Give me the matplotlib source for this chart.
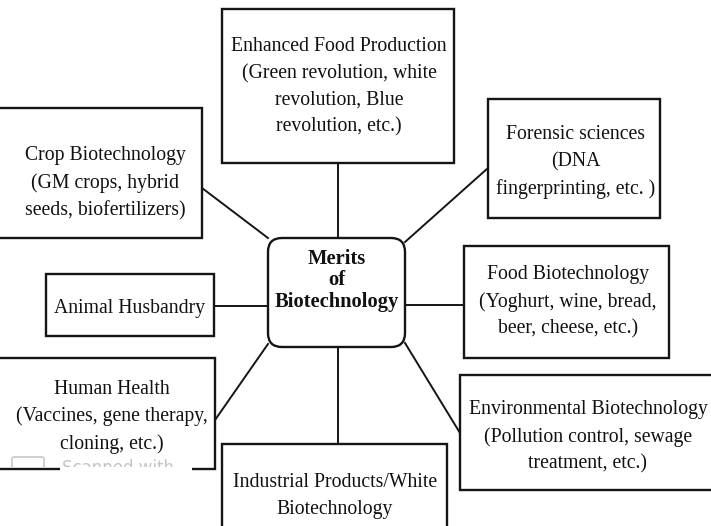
import matplotlib
matplotlib.use("Agg")
import matplotlib.pyplot as plt
from matplotlib.patches import Rectangle, FancyBboxPatch

# ---- content ----
center_label = ["Merits", "of", "Biotechnology"]
node_labels = [
    "Enhanced Food Production\n(Green revolution, white\nrevolution, Blue\nrevolution, etc.)",
    "Crop Biotechnology\n(GM crops, hybrid\nseeds, biofertilizers)",
    "Forensic sciences\n(DNA\nfingerprinting, etc. )",
    "Animal Husbandry",
    "Food Biotechnology\n(Yoghurt, wine, bread,\nbeer, cheese, etc.)",
    "Human Health\n(Vaccines, gene therapy,\ncloning, etc.)",
    "Environmental Biotechnology\n(Pollution control, sewage\ntreatment, etc.)",
    "Industrial Products/White\nBiotechnology",
]
watermark = "Scanned with"

# ---- layout (pixel coordinates: x0, y0, x1, y1) ----
boxes = [
    (222, 9, 454, 163),
    (-3, 108, 202, 238),
    (488, 99, 660, 218),
    (46, 274, 214, 336),
    (464, 246, 669, 358),
    (-3, 358, 215, 469),
    (460, 375, 713, 490),
    (222, 444, 447, 540),
]
text_xy = [
    (339, 87), (105, 183), (576, 162), (130, 308),
    (568, 302), (112, 417), (588, 437), (335, 496),
]
connectors = [
    ((338, 238), (338, 163)),
    ((268, 238), (202, 188)),
    ((405, 242), (488, 168)),
    ((268, 306), (214, 306)),
    ((405, 305), (464, 305)),
    ((268, 344), (215, 420)),
    ((405, 343), (460, 433)),
    ((338, 347), (338, 444)),
]
center_box = (268, 238, 405, 347)

W, H = 711, 526
fig = plt.figure(figsize=(W / 100, H / 100), dpi=100)
ax = fig.add_axes([0, 0, 1, 1])
ax.set_xlim(0, W)
ax.set_ylim(H, 0)
ax.axis("off")

font = "Liberation Serif"
fs = 14.2
ink = "#151515"

for (p0, p1) in connectors:
    ax.plot([p0[0], p1[0]], [p0[1], p1[1]], color=ink, lw=1.4, zorder=1)

for (x0, y0, x1, y1), lab, (tx, ty) in zip(boxes, node_labels, text_xy):
    ax.add_patch(Rectangle((x0, y0), x1 - x0, y1 - y0, fill=True, facecolor="white",
                           edgecolor=ink, lw=1.7, zorder=2))
    ax.text(tx, ty, lab, ha="center", va="center", family=font, fontsize=fs,
            color="#111111", linespacing=1.55, zorder=3)

cx0, cy0, cx1, cy1 = center_box
ax.add_patch(FancyBboxPatch((cx0 + 14, cy0 + 14), cx1 - cx0 - 28, cy1 - cy0 - 28,
                            boxstyle="round,pad=14", facecolor="white",
                            edgecolor=ink, lw=1.7, zorder=2))
ax.text((cx0 + cx1) / 2, 280, "\n".join(center_label),
        ha="center", va="center", family=font, fontsize=14.8, fontweight="bold",
        color="#111111", linespacing=1.1, zorder=3)

# faint scanner watermark (partly hidden), bottom-left
ax.add_patch(Rectangle((60, 463), 132, 12, facecolor="white", edgecolor="none", zorder=4))
clip = Rectangle((0, 440), 230, 27, transform=ax.transData)
wm = ax.text(62, 473, watermark, ha="left", va="baseline", family="DejaVu Sans",
             fontsize=12, color="#c4c4c4", zorder=5, clip_on=True)
wm.set_clip_path(clip)
icon = FancyBboxPatch((14, 459), 28, 16, boxstyle="round,pad=2", facecolor="none",
                      edgecolor="#c8c8c8", lw=1.2, zorder=5)
ax.add_patch(icon)
icon.set_clip_path(clip)

fig.savefig("out.png", dpi=100)
